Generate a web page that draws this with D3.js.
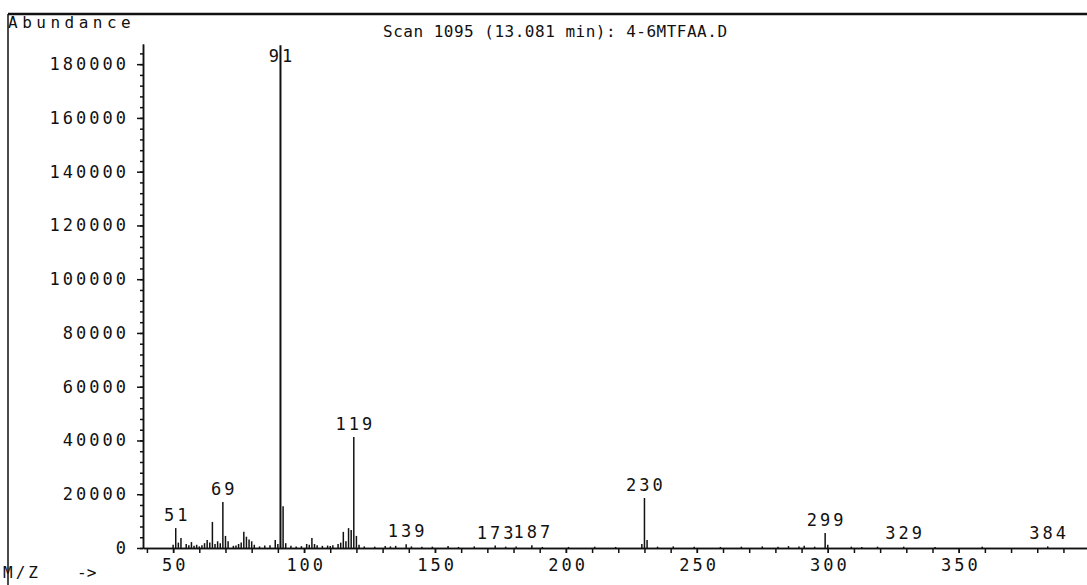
<!DOCTYPE html>
<html>
<head>
<meta charset="utf-8">
<script src="https://cdn.jsdelivr.net/npm/d3@7"></script>
<style>
  body { margin: 0; background: #fff; }
  svg text { font-family: "DejaVu Sans Mono", monospace; fill: #111; }
</style>
</head>
<body>
<div id="chart"></div>
<script>
// m/z values and their abundances
const mz = [50, 51, 52, 53, 55, 56, 57, 58, 59, 60, 61, 62, 63, 64, 65, 66, 67, 68, 69, 70,
  71, 73, 74, 75, 76, 77, 78, 79, 80, 81, 83, 85, 87, 89, 90, 91, 92, 93, 95, 97,
  99, 101, 102, 103, 104, 105, 107, 109, 110, 111, 113, 114, 115, 116, 117, 118, 119, 120, 121, 123,
  127, 131, 133, 135, 139, 141, 145, 149, 155, 159, 165, 173, 177, 181, 187, 191, 201, 211, 219, 229,
  230, 231, 235, 241, 249, 259, 267, 275, 281, 285, 289, 291, 295, 299, 300, 309, 313, 319, 329, 341,
  359, 384];
const abundance = [1200, 7400, 2000, 3700, 1500, 1000, 2200, 800, 1200, 600, 1000, 1800, 3000, 2000, 9700, 1500, 2500, 1800, 17100, 4500,
  2500, 800, 900, 1500, 2000, 6000, 4200, 3200, 2500, 1200, 600, 900, 1000, 3000, 1500, 187000, 15500, 1800, 800, 600,
  700, 1500, 1200, 3700, 1500, 1000, 800, 900, 700, 1000, 1500, 2000, 6000, 2500, 7400, 6700, 41300, 4500, 1200, 600,
  500, 700, 600, 800, 1400, 600, 500, 500, 700, 400, 600, 900, 500, 600, 1000, 400, 400, 500, 400, 1500,
  18600, 3000, 500, 600, 500, 400, 500, 600, 500, 700, 600, 800, 500, 5600, 1200, 500, 400, 500, 500, 400,
  500, 600];
const labelled = [51, 69, 91, 119, 139, 173, 187, 230, 299, 329, 384];
const yTicks = [0, 20000, 40000, 60000, 80000, 100000, 120000, 140000, 160000, 180000];
const xTicks = [50, 100, 150, 200, 250, 300, 350];

const width = 1087, height = 585;
const peaks = mz.map((m, i) => ({ mz: m, value: abundance[i] }));

const svg = d3.select("#chart").append("svg")
  .attr("width", width)
  .attr("height", height);

const x = d3.scaleLinear().domain([38.5, 399]).range([143, 1087]);
const y = d3.scaleLinear().domain([0, 187500]).range([548, 44]);

// frame: top rule and left edge
svg.append("line").attr("x1", 8).attr("x2", width).attr("y1", 14).attr("y2", 14)
  .attr("stroke", "#111").attr("stroke-width", 2.5);
svg.append("line").attr("x1", 8).attr("x2", 8).attr("y1", 14).attr("y2", height)
  .attr("stroke", "#111").attr("stroke-width", 1.5);

svg.append("text").attr("x", 8).attr("y", 28)
  .attr("font-size", 16).attr("letter-spacing", 4.5)
  .text("Abundance");
svg.append("text").attr("x", 383).attr("y", 37)
  .attr("font-size", 16).attr("letter-spacing", 0.5)
  .text("Scan 1095 (13.081 min): 4-6MTFAA.D");
svg.append("text").attr("x", 3).attr("y", 578)
  .attr("font-size", 16).attr("letter-spacing", 3)
  .text("M/Z");
svg.append("text").attr("x", 77).attr("y", 578)
  .attr("font-size", 16)
  .text("->");

// y axis: minor ticks every 4000, labels every 20000
svg.append("g")
  .attr("transform", "translate(143,0)")
  .call(d3.axisLeft(y).tickValues(d3.range(0, 187500, 4000)).tickSize(3).tickSizeOuter(0).tickFormat(""));
const yAxis = svg.append("g")
  .attr("transform", "translate(143,0)")
  .call(d3.axisLeft(y).tickValues(yTicks).tickSize(6).tickPadding(8).tickSizeOuter(0).tickFormat(d3.format("d")));
yAxis.selectAll("text")
  .attr("font-size", 17).attr("letter-spacing", 3)
  .attr("font-family", "DejaVu Sans Mono");

// x axis: ticks every 10, labels every 50
svg.append("g")
  .attr("transform", "translate(0,548)")
  .call(d3.axisBottom(x).tickValues(d3.range(40, 400, 10)).tickSize(5).tickSizeOuter(0).tickFormat(""));
const xAxis = svg.append("g")
  .attr("transform", "translate(0,548)")
  .call(d3.axisBottom(x).tickValues(xTicks).tickSize(5).tickPadding(6).tickSizeOuter(0));
xAxis.selectAll("text")
  .attr("font-size", 17).attr("letter-spacing", 3)
  .attr("font-family", "DejaVu Sans Mono")
  .attr("dx", "0.1em");

svg.selectAll(".domain, .tick line").attr("stroke", "#111").attr("stroke-width", 1.5);

// peaks
svg.append("g").selectAll("line")
  .data(peaks)
  .join("line")
  .attr("x1", d => x(d.mz)).attr("x2", d => x(d.mz))
  .attr("y1", y(0)).attr("y2", d => y(d.value))
  .attr("stroke", "#111")
  .attr("stroke-width", d => d.value > 100000 ? 2 : 1.5);

// peak labels
svg.append("g").selectAll("text")
  .data(peaks.filter(d => labelled.includes(d.mz)))
  .join("text")
  .attr("x", d => x(d.mz) + 1.5)
  .attr("y", d => Math.min(Math.max(y(d.value) - 7, 62), 539))
  .attr("text-anchor", "middle")
  .attr("font-size", 17).attr("letter-spacing", 3)
  .text(d => d.mz);
</script>
</body>
</html>
